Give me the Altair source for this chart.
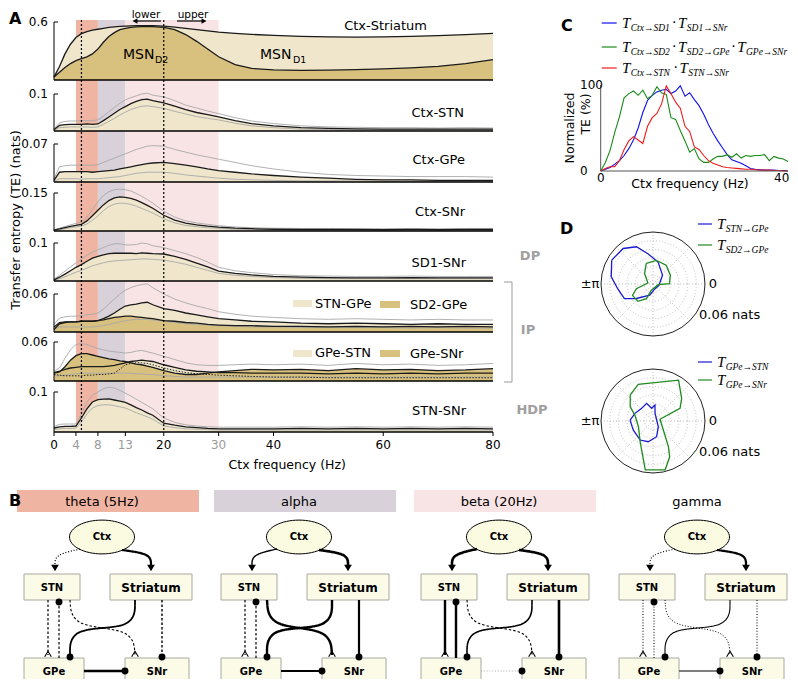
import altair as alt
import pandas as pd

W, H = 782, 671
FONT = "DejaVu Sans"
SERIF = "Liberation Serif"
LIGHT = "#efe6cb"
DARK = "#d8c17e"
THETA_C = "#f0b4a2"
ALPHA_C = "#d9d1da"
BETA_C = "#f8e4e4"

# ---------------- Panel A data (Ctx frequency grid, Hz) ----------------
FREQ = [0, 1, 2, 3, 4, 5, 6, 7, 8, 9, 10, 11, 12, 13, 14, 15, 16, 17, 18, 20, 22, 24, 26, 28, 30,
        33, 36, 40, 45, 50, 55, 60, 65, 70, 75, 80]

STR_D1 = [0.03, 0.14, 0.27, 0.37, 0.44, 0.48, 0.50, 0.515, 0.525, 0.535, 0.545, 0.55, 0.555, 0.558, 0.56,
          0.562, 0.563, 0.563, 0.562, 0.558, 0.548, 0.535, 0.522, 0.508, 0.495, 0.482, 0.472, 0.462,
          0.452, 0.446, 0.444, 0.446, 0.452, 0.46, 0.47, 0.482]
STR_D2 = [0.03, 0.08, 0.13, 0.17, 0.20, 0.22, 0.24, 0.27, 0.32, 0.39, 0.45, 0.49, 0.52, 0.535, 0.545,
          0.55, 0.552, 0.553, 0.552, 0.545, 0.52, 0.47, 0.40, 0.32, 0.24, 0.16, 0.12, 0.105, 0.10,
          0.102, 0.108, 0.115, 0.125, 0.14, 0.17, 0.21]

STN_M = [0.004, 0.015, 0.017, 0.018, 0.018, 0.018, 0.019, 0.018, 0.019, 0.028, 0.038, 0.048, 0.058, 0.066,
         0.074, 0.080, 0.085, 0.086, 0.082, 0.076, 0.067, 0.058, 0.050, 0.044, 0.038, 0.028, 0.020,
         0.014, 0.009, 0.007, 0.006, 0.005, 0.005, 0.005, 0.005, 0.005]
STN_HI = [0.006, 0.022, 0.026, 0.027, 0.027, 0.028, 0.028, 0.028, 0.030, 0.040, 0.052, 0.064, 0.075, 0.084,
          0.090, 0.095, 0.100, 0.102, 0.097, 0.092, 0.082, 0.070, 0.062, 0.054, 0.047, 0.036, 0.027,
          0.020, 0.014, 0.011, 0.010, 0.009, 0.009, 0.008, 0.009, 0.008]
STN_LO = [0.002, 0.009, 0.010, 0.011, 0.011, 0.011, 0.011, 0.010, 0.011, 0.018, 0.026, 0.034, 0.043, 0.051,
          0.058, 0.063, 0.067, 0.068, 0.066, 0.061, 0.053, 0.046, 0.039, 0.034, 0.030, 0.021, 0.014,
          0.009, 0.005, 0.004, 0.003, 0.003, 0.003, 0.003, 0.003, 0.003]

GPE_M = [0.003, 0.018, 0.019, 0.019, 0.019, 0.019, 0.019, 0.018, 0.019, 0.020, 0.021, 0.022, 0.024, 0.026,
         0.028, 0.030, 0.032, 0.034, 0.035, 0.036, 0.034, 0.031, 0.028, 0.024, 0.021, 0.018, 0.015,
         0.012, 0.009, 0.007, 0.005, 0.004, 0.004, 0.003, 0.003, 0.003]
GPE_HI = [0.006, 0.028, 0.030, 0.031, 0.031, 0.031, 0.031, 0.031, 0.032, 0.036, 0.040, 0.044, 0.048, 0.052,
          0.056, 0.060, 0.063, 0.066, 0.067, 0.066, 0.060, 0.055, 0.050, 0.046, 0.042, 0.036, 0.030,
          0.024, 0.018, 0.014, 0.012, 0.011, 0.010, 0.010, 0.010, 0.009]
GPE_LO = [0.001, 0.006, 0.006, 0.006, 0.006, 0.005, 0.006, 0.006, 0.006, 0.007, 0.008, 0.009, 0.010, 0.012,
          0.014, 0.016, 0.017, 0.018, 0.018, 0.018, 0.016, 0.013, 0.011, 0.009, 0.007, 0.005, 0.004,
          0.003, 0.002, 0.002, 0.002, 0.001, 0.001, 0.001, 0.001, 0.001]

SNR_M = [0.003, 0.008, 0.013, 0.018, 0.022, 0.026, 0.040, 0.060, 0.082, 0.103, 0.120, 0.131, 0.135, 0.133,
         0.129, 0.122, 0.112, 0.101, 0.090, 0.062, 0.043, 0.031, 0.024, 0.019, 0.015, 0.011, 0.009,
         0.007, 0.006, 0.006, 0.006, 0.005, 0.006, 0.005, 0.006, 0.006]
SNR_HI = [0.004, 0.011, 0.018, 0.024, 0.030, 0.035, 0.055, 0.085, 0.115, 0.140, 0.155, 0.163, 0.165, 0.163,
          0.158, 0.148, 0.137, 0.124, 0.110, 0.078, 0.055, 0.040, 0.032, 0.026, 0.021, 0.016, 0.013,
          0.011, 0.010, 0.010, 0.009, 0.009, 0.010, 0.009, 0.010, 0.010]
SNR_LO = [0.002, 0.005, 0.009, 0.013, 0.016, 0.019, 0.028, 0.042, 0.060, 0.080, 0.097, 0.106, 0.110, 0.109,
          0.105, 0.098, 0.089, 0.080, 0.071, 0.048, 0.032, 0.022, 0.017, 0.013, 0.010, 0.007, 0.005,
          0.004, 0.003, 0.003, 0.003, 0.003, 0.003, 0.003, 0.003, 0.003]

SD1_M = [0.003, 0.010, 0.018, 0.027, 0.036, 0.043, 0.052, 0.060, 0.065, 0.069, 0.072, 0.073, 0.073, 0.073,
         0.073, 0.072, 0.074, 0.073, 0.072, 0.071, 0.065, 0.057, 0.047, 0.037, 0.026, 0.020, 0.016,
         0.012, 0.010, 0.009, 0.008, 0.008, 0.009, 0.008, 0.008, 0.008]
SD1_HI = [0.005, 0.015, 0.026, 0.037, 0.048, 0.058, 0.068, 0.076, 0.082, 0.088, 0.094, 0.098, 0.098, 0.095,
          0.095, 0.096, 0.100, 0.098, 0.093, 0.088, 0.080, 0.072, 0.062, 0.050, 0.036, 0.027, 0.022,
          0.017, 0.014, 0.013, 0.012, 0.012, 0.013, 0.012, 0.012, 0.012]
SD1_LO = [0.002, 0.006, 0.011, 0.017, 0.023, 0.028, 0.034, 0.040, 0.044, 0.048, 0.051, 0.053, 0.054, 0.055,
          0.056, 0.057, 0.058, 0.058, 0.057, 0.055, 0.050, 0.044, 0.036, 0.028, 0.020, 0.015, 0.012,
          0.009, 0.007, 0.006, 0.006, 0.006, 0.006, 0.006, 0.006, 0.006]

STNGPE_M = [0.008, 0.015, 0.016, 0.016, 0.016, 0.017, 0.017, 0.017, 0.018, 0.021, 0.025, 0.030, 0.036,
            0.041, 0.043, 0.044, 0.046, 0.047, 0.043, 0.037, 0.034, 0.030, 0.027, 0.024, 0.021, 0.019,
            0.017, 0.016, 0.014, 0.013, 0.014, 0.013, 0.012, 0.013, 0.012, 0.012]
STNGPE_HI = [0.012, 0.022, 0.024, 0.025, 0.025, 0.026, 0.027, 0.028, 0.030, 0.036, 0.044, 0.052, 0.060,
             0.066, 0.070, 0.073, 0.075, 0.076, 0.070, 0.060, 0.052, 0.046, 0.041, 0.037, 0.032, 0.028,
             0.025, 0.023, 0.021, 0.020, 0.021, 0.020, 0.019, 0.020, 0.019, 0.019]
STNGPE_LO = [0.004, 0.008, 0.008, 0.008, 0.008, 0.008, 0.008, 0.008, 0.009, 0.010, 0.012, 0.014, 0.016,
             0.018, 0.019, 0.020, 0.020, 0.020, 0.019, 0.017, 0.015, 0.013, 0.012, 0.011, 0.010, 0.009,
             0.008, 0.008, 0.007, 0.007, 0.007, 0.007, 0.006, 0.007, 0.006, 0.006]
SD2GPE_M = [0.004, 0.013, 0.015, 0.016, 0.016, 0.017, 0.017, 0.017, 0.018, 0.019, 0.021, 0.023, 0.024,
            0.025, 0.025, 0.024, 0.023, 0.022, 0.021, 0.018, 0.017, 0.015, 0.014, 0.012, 0.011, 0.010,
            0.010, 0.009, 0.009, 0.008, 0.009, 0.008, 0.009, 0.008, 0.009, 0.008]

GPESTN_M = [0.013, 0.015, 0.018, 0.020, 0.021, 0.022, 0.022, 0.022, 0.022, 0.022, 0.023, 0.024, 0.026,
            0.028, 0.030, 0.031, 0.032, 0.031, 0.030, 0.025, 0.021, 0.017, 0.015, 0.014, 0.013, 0.013,
            0.012, 0.012, 0.012, 0.011, 0.012, 0.011, 0.012, 0.011, 0.012, 0.012]
GPESNR_M = [0.012, 0.014, 0.022, 0.032, 0.039, 0.042, 0.042, 0.040, 0.038, 0.036, 0.034, 0.033, 0.031,
            0.030, 0.028, 0.026, 0.025, 0.023, 0.021, 0.016, 0.012, 0.010, 0.010, 0.012, 0.014, 0.016,
            0.018, 0.017, 0.018, 0.016, 0.019, 0.017, 0.018, 0.016, 0.017, 0.019]
P7_HI = [0.015, 0.020, 0.035, 0.048, 0.056, 0.058, 0.056, 0.053, 0.050, 0.048, 0.046, 0.045, 0.044, 0.043,
         0.044, 0.046, 0.047, 0.045, 0.043, 0.038, 0.033, 0.028, 0.025, 0.024, 0.024, 0.025, 0.026,
         0.025, 0.026, 0.024, 0.027, 0.025, 0.026, 0.024, 0.025, 0.027]
P7_LO = [0.008, 0.008, 0.009, 0.010, 0.011, 0.012, 0.012, 0.012, 0.012, 0.012, 0.012, 0.012, 0.012, 0.012,
         0.012, 0.011, 0.011, 0.010, 0.010, 0.008, 0.007, 0.006, 0.006, 0.006, 0.006, 0.006, 0.006,
         0.006, 0.006, 0.006, 0.006, 0.006, 0.006, 0.006, 0.006, 0.006]
P7_DOT = [0.010, 0.009, 0.008, 0.008, 0.008, 0.008, 0.009, 0.009, 0.010, 0.010, 0.011, 0.012, 0.018, 0.025,
          0.027, 0.028, 0.028, 0.027, 0.025, 0.020, 0.016, 0.013, 0.011, 0.010, 0.009, 0.008, 0.007,
          0.006, 0.006, 0.005, 0.005, 0.005, 0.005, 0.005, 0.005, 0.005]

STNSNR_M = [0.010, 0.013, 0.014, 0.014, 0.015, 0.035, 0.058, 0.075, 0.081, 0.082, 0.083, 0.080, 0.077,
            0.074, 0.068, 0.061, 0.055, 0.048, 0.042, 0.022, 0.017, 0.013, 0.011, 0.009, 0.008, 0.008,
            0.008, 0.008, 0.009, 0.008, 0.009, 0.008, 0.009, 0.008, 0.009, 0.008]
STNSNR_HI = [0.014, 0.019, 0.020, 0.020, 0.020, 0.045, 0.075, 0.092, 0.100, 0.108, 0.112, 0.110, 0.104,
             0.097, 0.090, 0.082, 0.074, 0.066, 0.058, 0.035, 0.024, 0.018, 0.015, 0.013, 0.012, 0.012,
             0.012, 0.012, 0.013, 0.012, 0.013, 0.012, 0.013, 0.012, 0.013, 0.012]
STNSNR_LO = [0.006, 0.008, 0.009, 0.009, 0.010, 0.025, 0.045, 0.060, 0.066, 0.068, 0.068, 0.066, 0.063,
             0.060, 0.054, 0.048, 0.043, 0.038, 0.032, 0.015, 0.011, 0.008, 0.007, 0.006, 0.005, 0.005,
             0.005, 0.005, 0.005, 0.005, 0.005, 0.005, 0.005, 0.005, 0.005, 0.005]

BAND_START = [4, 8, 13]
BAND_END = [8, 13, 30]
BAND_COLOR = [THETA_C, ALPHA_C, BETA_C]
VLINES = [5, 20]
A_TICKS = [0, 4, 8, 13, 20, 30, 40, 60, 80]
A_TICK_COLORS = ["black", "#9a9a9a", "#9a9a9a", "#9a9a9a", "black", "#9a9a9a", "black", "black", "black"]

# ---------------- Panel C data ----------------
C_FREQ = [0, 1, 2, 3, 4, 5, 6, 7, 8, 9, 10, 11, 12, 13, 14, 15, 16, 17, 18, 19, 20,
          21, 22, 23, 24, 25, 26, 27, 28, 29, 30, 31, 32, 33, 34, 35, 36, 37, 38, 39, 40]
C_BLUE = [0, 2, 4, 8, 12, 18, 26, 36, 50, 68, 82, 88, 92, 94, 95, 90, 93, 99, 87, 91, 83,
          76, 66, 54, 44, 35, 27, 19, 13, 11, 9, 6, 3, 2, 1.5, 1, 1, 1, 0.5, 0.5, 0]
C_GREEN = [0, 10, 24, 45, 63, 85, 90, 93, 88, 94, 84, 88, 98, 91, 89, 62, 60, 47, 35, 22, 26,
           14, 10, 10, 14, 17, 17, 19, 16, 20, 15, 18, 17, 18, 18, 19, 12, 17, 15, 14, 11]
C_RED = [0, 3, 5, 5, 12, 25, 35, 40, 36, 32, 52, 62, 67, 78, 99, 90, 80, 73, 52, 46, 28,
         25, 18, 12, 9, 7, 5, 4, 3.5, 3, 2.5, 2, 2, 1.5, 1, 1, 1, 0.5, 0.5, 0, 0]

# ---------------- Panel D data (phase in degrees, TE in nats) ----------------
D1_BLUE_ANG = [150, 130, 114, 99, 77, 43, -12, -70, -106, -139, -153, -172, 170, 150]
D1_BLUE_R = [0.055, 0.0535, 0.047, 0.035, 0.026, 0.015, 0.007, 0.006, 0.0135, 0.0255, 0.037, 0.041, 0.049, 0.055]
D1_GREEN_ANG = [108, 82, 55, 27, 1, -8, -105, -114, -131, -151, -164, 169, 129, 108]
D1_GREEN_R = [0.025, 0.0275, 0.0265, 0.0225, 0.019, 0.006, 0.0075, 0.0185, 0.0265, 0.027, 0.02, 0.006, 0.0155, 0.025]
D2_BLUE_ANG = [178, 157, 132, 110, 96, 83, 75, 15, -47, -77, -103, -124, -155, 178]
D2_BLUE_R = [0.0265, 0.0226, 0.0196, 0.0217, 0.0147, 0.0186, 0.0092, 0.0044, 0.009, 0.0186, 0.0245, 0.0265, 0.025, 0.0265]
D2_GREEN_ANG = [131, 112, 58, 38, 25, 14, -41, -59, -65, -76, -99, -122, -159, 162, 148, 131]
D2_GREEN_R = [0.040, 0.0456, 0.0556, 0.042, 0.0344, 0.0083, 0.0158, 0.0345, 0.0456, 0.058, 0.057, 0.028, 0.018, 0.022, 0.031, 0.040]
RING_R = [0.01, 0.02, 0.03, 0.04, 0.05]
SPOKE_ANG = [0, 45, 90, 135, 180, 225, 270, 315]

# ---------------- Panel B data (network diagrams) ----------------
B_OFFSETS = [0, 197, 397, 595]
B_TITLES = ["theta (5Hz)", "alpha", "beta (20Hz)", "gamma"]
B_BAR = [THETA_C, ALPHA_C, BETA_C]
NODE_NAMES = ["STN", "Striatum", "GPe", "SNr"]
NODE_X1 = [24, 110, 24, 125]
NODE_X2 = [80, 192, 84, 189]
NODE_Y1 = [574, 574, 658, 658]
NODE_Y2 = [600, 600, 684, 684]
CTX_X, CTX_Y = 102, 537
EDGE_ORDER = ["ctx_stn", "ctx_str", "stn_gpe", "gpe_stn", "stn_snr", "str_gpe", "str_snr", "gpe_snr"]
EDGE_PATHS = {
    "ctx_stn": ([80, 62, 55, 55], [549, 553, 558, 565]),
    "ctx_str": ([122, 144, 151, 151], [550, 553, 558, 565]),
    "stn_gpe": ([48, 48], [600, 655]),
    "gpe_stn": ([59, 59], [658, 603]),
    "stn_snr": ([70, 72, 133, 135], [600, 628, 628, 655]),
    "str_gpe": ([135, 135, 70, 70], [600, 630, 626, 656]),
    "str_snr": ([162, 162], [600, 656]),
    "gpe_snr": ([84, 124], [671, 671]),
}
EDGE_END = {"ctx_stn": ("tri", 55, 568), "ctx_str": ("tri", 151, 568), "stn_gpe": ("open", 48, 654),
            "gpe_stn": ("dot", 59, 602), "stn_snr": ("open", 135, 654), "str_gpe": ("dot", 70, 657),
            "str_snr": ("dot", 162, 657), "gpe_snr": ("dot", 125, 671)}
EDGE_W = [[1.2, 2.2, 1.2, 1.2, 1.1, 1.8, 1.4, 2.6],
          [1.4, 2.6, 1.2, 1.2, 2.4, 2.4, 2.2, 1.8],
          [2.6, 2.6, 2.4, 2.4, 1.1, 1.6, 2.6, 1.0],
          [1.1, 2.2, 1.0, 1.0, 1.0, 1.1, 1.0, 1.6]]
EDGE_D = [["dotted", "solid", "dashed", "dashed", "dashed", "solid", "dashed", "solid"],
          ["solid", "solid", "dashed", "dashed", "solid", "solid", "solid", "solid"],
          ["solid", "solid", "solid", "solid", "dashed", "solid", "solid", "dotted"],
          ["dotted", "solid", "dotted", "dotted", "dotted", "solid", "dotted", "solid"]]
EDGE_C = [["black"] * 8, ["black"] * 8, ["black"] * 7 + ["#aaaaaa"], ["black"] * 7 + ["#555555"]]


def gx(v):
    return v - 8


PX = alt.Scale(domain=[0, 798], range=[-8, 790])
PY = alt.Scale(domain=[0, 687], range=[-8, 679])
AX = alt.Scale(domain=[0, 80], range=[gx(54), gx(493)])


def page_text(rows, **kw):
    df = pd.DataFrame(rows, columns=["px", "py", "txt"])
    style = dict(font=FONT, fontSize=12, baseline="middle", align="center", color="black")
    style.update(kw)
    return alt.Chart(df).mark_text(**style).encode(
        x=alt.X("px:Q", scale=PX, axis=None),
        y=alt.Y("py:Q", scale=PY, axis=None),
        text="txt:N")


def page_rect(rows, **kw):
    df = pd.DataFrame(rows, columns=["x1", "y1", "x2", "y2", "c"])
    return alt.Chart(df).mark_rect(**kw).encode(
        x=alt.X("x1:Q", scale=PX, axis=None), x2="x2:Q",
        y=alt.Y("y1:Q", scale=PY, axis=None), y2="y2:Q",
        fill=alt.Fill("c:N", scale=None))


def page_rule(rows, **kw):
    df = pd.DataFrame(rows, columns=["x1", "y1", "x2", "y2", "c"])
    return alt.Chart(df).mark_rule(**kw).encode(
        x=alt.X("x1:Q", scale=PX, axis=None), x2="x2:Q",
        y=alt.Y("y1:Q", scale=PY, axis=None), y2="y2:Q",
        color=alt.Color("c:N", scale=None))


def page_points(rows, **kw):
    df = pd.DataFrame(rows, columns=["px", "py"])
    return alt.Chart(df).mark_point(opacity=1, **kw).encode(
        x=alt.X("px:Q", scale=PX, axis=None),
        y=alt.Y("py:Q", scale=PY, axis=None))


# ---------------- Panel A ----------------
def make_panel(cols, ymax, label, ytop, ybase, areas, grays, means, dotted=None, bottom=False):
    df = pd.DataFrame(dict(f=FREQ, **cols))
    ys = alt.Scale(domain=[0, ymax], range=[gx(ybase), gx(ytop)])

    def X(f):
        return alt.X(f, scale=AX, axis=None)

    def Y(f):
        return alt.Y(f, scale=ys, axis=None)

    layers = []
    for col, colr in areas:
        layers.append(alt.Chart(df).mark_area(color=colr, opacity=1).encode(x=X("f:Q"), y=Y(col + ":Q")))
    for col in grays:
        layers.append(alt.Chart(df).mark_line(color="#a8a8a8", strokeWidth=0.9).encode(x=X("f:Q"), y=Y(col + ":Q")))
    if dotted:
        layers.append(alt.Chart(df).mark_line(color="#222222", strokeWidth=1, strokeDash=[1.5, 1.5]).encode(
            x=X("f:Q"), y=Y(dotted + ":Q")))
    for col in means:
        layers.append(alt.Chart(df).mark_line(color="#1b1b1b", strokeWidth=1.3).encode(x=X("f:Q"), y=Y(col + ":Q")))

    ax_df = pd.DataFrame({"x0": [0.0], "x1": [80.0], "y0": [0.0], "ym": [ymax], "xt": [0.75],
                          "xl": [-1.1], "lab": [label]})
    layers.append(alt.Chart(ax_df).mark_rule(color="black", strokeWidth=1.5).encode(
        x=X("x0:Q"), x2="x1:Q", y=Y("y0:Q")))
    layers.append(alt.Chart(ax_df).mark_rule(color="black", strokeWidth=1).encode(
        x=X("x0:Q"), y=Y("y0:Q"), y2="ym:Q"))
    layers.append(alt.Chart(ax_df).mark_rule(color="black", strokeWidth=1).encode(
        x=X("x0:Q"), x2="xt:Q", y=Y("ym:Q")))
    layers.append(alt.Chart(ax_df).mark_text(align="right", baseline="middle", font=FONT, fontSize=12,
                                            color="black").encode(
        x=X("xl:Q"), y=Y("ym:Q"), text="lab:N"))
    if bottom:
        unit = ymax / (ybase - ytop)
        tick_df = pd.DataFrame({"f": A_TICKS, "y0": 0.0, "yt": -4 * unit, "yl": -13 * unit,
                                "lab": [str(t) for t in A_TICKS], "c": A_TICK_COLORS})
        layers.append(alt.Chart(tick_df).mark_rule(color="black", strokeWidth=1).encode(
            x=X("f:Q"), y=Y("y0:Q"), y2="yt:Q"))
        layers.append(alt.Chart(tick_df).mark_text(font=FONT, fontSize=12, baseline="middle").encode(
            x=X("f:Q"), y=Y("yl:Q"), text="lab:N", color=alt.Color("c:N", scale=None)))
        title_df = pd.DataFrame({"f": [42.5], "y": [-33 * unit], "lab": ["Ctx frequency (Hz)"]})
        layers.append(alt.Chart(title_df).mark_text(font=FONT, fontSize=12.5, baseline="middle",
                                                   color="black").encode(
            x=X("f:Q"), y=Y("y:Q"), text="lab:N"))
    return alt.layer(*layers)


bands = alt.Chart(pd.DataFrame({"x1": BAND_START, "x2": BAND_END, "c": BAND_COLOR,
                                "top": [20] * 3, "bot": [432] * 3})).mark_rect().encode(
    x=alt.X("x1:Q", scale=AX, axis=None), x2="x2:Q",
    y=alt.Y("top:Q", scale=PY, axis=None), y2="bot:Q",
    fill=alt.Fill("c:N", scale=None))

p1 = make_panel({"d1": STR_D1, "d2": STR_D2}, 0.6, "0.6", 22, 80, [("d1", LIGHT), ("d2", DARK)], [], ["d1", "d2"])
p2 = make_panel({"m": STN_M, "hi": STN_HI, "lo": STN_LO}, 0.1, "0.1", 94, 131, [("m", LIGHT)], ["hi", "lo"], ["m"])
p3 = make_panel({"m": GPE_M, "hi": GPE_HI, "lo": GPE_LO}, 0.07, "0.07", 144, 182, [("m", LIGHT)], ["hi", "lo"], ["m"])
p4 = make_panel({"m": SNR_M, "hi": SNR_HI, "lo": SNR_LO}, 0.15, "0.15", 193, 231, [("m", LIGHT)], ["hi", "lo"], ["m"])
p5 = make_panel({"m": SD1_M, "hi": SD1_HI, "lo": SD1_LO}, 0.1, "0.1", 243, 281, [("m", LIGHT)], ["hi", "lo"], ["m"])
p6 = make_panel({"a": STNGPE_M, "b": SD2GPE_M, "hi": STNGPE_HI, "lo": STNGPE_LO}, 0.06, "0.06", 294, 332,
                [("a", LIGHT), ("b", DARK)], ["hi", "lo"], ["a", "b"])
p7 = make_panel({"a": GPESTN_M, "b": GPESNR_M, "hi": P7_HI, "lo": P7_LO, "d": P7_DOT}, 0.06, "0.06", 342, 381,
                [("a", LIGHT), ("b", DARK)], ["hi", "lo"], ["a", "b"], dotted="d")
p8 = make_panel({"m": STNSNR_M, "hi": STNSNR_HI, "lo": STNSNR_LO}, 0.1, "0.1", 392, 432, [("m", LIGHT)],
                ["hi", "lo"], ["m"], bottom=True)

vlines = alt.Chart(pd.DataFrame({"f": VLINES, "top": [20, 20], "bot": [432, 432]})).mark_rule(
    color="black", strokeDash=[2, 2], strokeWidth=1.2).encode(
    x=alt.X("f:Q", scale=AX, axis=None), y=alt.Y("top:Q", scale=PY, axis=None), y2="bot:Q")

a_labels = page_text([(427, 26, "Ctx-Striatum"), (464, 113, "Ctx-STN"), (465, 160, "Ctx-GPe"),
                      (465, 212, "Ctx-SNr"), (466, 263, "SD1-SNr"), (466, 411, "STN-SNr")],
                     align="right", fontSize=13)
leg_labels = page_text([(315, 304, "STN-GPe"), (410, 305, "SD2-GPe"), (315, 353, "GPe-STN"),
                        (410, 354, "GPe-SNr")], align="left", fontSize=13)
swatches = page_rect([(293, 300, 312, 307, LIGHT), (380, 301, 400, 308, DARK),
                      (293, 350, 312, 357, LIGHT), (380, 350, 400, 357, DARK)])
msn_big = page_text([(123, 55, "MSN"), (260, 55, "MSN")], align="left", fontSize=14)
msn_sub = page_text([(155, 60, "D2"), (293, 60, "D1")], align="left", fontSize=9.5)
lu_text = page_text([(146, 15, "lower"), (193, 15, "upper")], fontSize=10.5)
lu_rules = page_rule([(136, 21, 161, 21, "black"), (177, 21, 202, 21, "black")], strokeWidth=1.2)
lu_left = page_points([(135, 21)], shape="triangle-left", filled=True, color="black", size=32)
lu_right = page_points([(204, 21)], shape="triangle-right", filled=True, color="black", size=32)
pathway = page_text([(530, 256, "DP"), (528, 330, "IP"), (532, 410, "HDP")], color="#a0a0a0",
                    fontWeight="bold", fontSize=13)
bracket_df = pd.DataFrame({"o": [0, 1, 2, 3], "px": [504, 512, 512, 504], "py": [282, 282, 382, 382]})
bracket = alt.Chart(bracket_df).mark_line(color="#9a9a9a", strokeWidth=1).encode(
    x=alt.X("px:Q", scale=PX, axis=None), y=alt.Y("py:Q", scale=PY, axis=None), order="o:Q")
ytitle = page_text([(16, 220, "Transfer entropy (TE) (nats)")], angle=270, fontSize=13)
letters = page_text([(9, 19, "A"), (9, 501, "B"), (561, 26, "C"), (560, 229, "D")],
                    fontWeight="bold", fontSize=16, align="left")

# ---------------- Panel C ----------------
CX = alt.Scale(domain=[0, 40], range=[gx(600.7), gx(788)])
CY = alt.Scale(domain=[0, 100], range=[gx(171), gx(85)])
c_df = pd.concat([
    pd.DataFrame({"f": C_FREQ, "v": C_BLUE, "s": "blue"}),
    pd.DataFrame({"f": C_FREQ, "v": C_GREEN, "s": "green"}),
    pd.DataFrame({"f": C_FREQ, "v": C_RED, "s": "red"}),
])
c_lines = alt.Chart(c_df).mark_line(strokeWidth=1.1).encode(
    x=alt.X("f:Q", scale=CX, axis=None),
    y=alt.Y("v:Q", scale=CY, axis=None),
    color=alt.Color("s:N", scale=alt.Scale(domain=["blue", "green", "red"],
                                           range=["#1010ee", "#1a8a1a", "#ee1a1a"]), legend=None),
    detail="s:N")
c_ax_df = pd.DataFrame({"x0": [0.0], "x1": [40.0], "y0": [0.0], "y1": [100.0]})
c_yline = alt.Chart(c_ax_df).mark_rule(color="#555555", strokeWidth=1).encode(
    x=alt.X("x0:Q", scale=CX, axis=None), y=alt.Y("y0:Q", scale=CY, axis=None), y2="y1:Q")
c_xline = alt.Chart(c_ax_df).mark_rule(color="#555555", strokeWidth=1).encode(
    x=alt.X("x0:Q", scale=CX, axis=None), x2="x1:Q", y=alt.Y("y0:Q", scale=CY, axis=None))
c_ylab = alt.Chart(pd.DataFrame({"f": [-4.4, -4.4], "v": [100, 0], "t": ["100", "0"]})).mark_text(
    align="left", baseline="middle", font=FONT, fontSize=12, color="black").encode(
    x=alt.X("f:Q", scale=CX, axis=None), y=alt.Y("v:Q", scale=CY, axis=None), text="t:N")
c_xlab0 = alt.Chart(pd.DataFrame({"f": [0.0], "v": [-7.6], "t": ["0"]})).mark_text(
    align="center", baseline="middle", font=FONT, fontSize=12, color="black").encode(
    x=alt.X("f:Q", scale=CX, axis=None), y=alt.Y("v:Q", scale=CY, axis=None), text="t:N")
c_xlab40 = alt.Chart(pd.DataFrame({"f": [40.3], "v": [-7.6], "t": ["40"]})).mark_text(
    align="right", baseline="middle", font=FONT, fontSize=12, color="black").encode(
    x=alt.X("f:Q", scale=CX, axis=None), y=alt.Y("v:Q", scale=CY, axis=None), text="t:N")
c_xtitle = page_text([(690, 184, "Ctx frequency (Hz)")], fontSize=12.5)
c_ytitle1 = page_text([(570, 128, "Normalized")], angle=270, fontSize=12.5)
c_ytitle2 = page_text([(586, 114, "TE (%)")], angle=270, fontSize=12.5)


def sub_width(s, size):
    w = 0.0
    for ch in s:
        if ch == "→":
            w += 1.0
        elif ch.isupper():
            w += 0.66
        elif ch.isdigit():
            w += 0.5
        elif ch in "tr":
            w += 0.33
        else:
            w += 0.44
    return w * size


BIG, SMALL, DOTS = [], [], []


def math_label(x0, y, subs, big=15, small=9.5):
    x = x0
    for i, s in enumerate(subs):
        if i:
            DOTS.append((x + 1, y, "·"))
            x += 7
        BIG.append((x, y, "T"))
        x += 0.58 * big
        SMALL.append((x, y + 4.5, s))
        x += sub_width(s, small)


math_label(622, 23, ["Ctx→SD1", "SD1→SNr"])
math_label(622, 47, ["Ctx→SD2", "SD2→GPe", "GPe→SNr"])
math_label(622, 68, ["Ctx→STN", "STN→SNr"])
math_label(717, 224, ["STN→GPe"])
math_label(717, 245, ["SD2→GPe"])
math_label(717, 362, ["GPe→STN"])
math_label(717, 380, ["GPe→SNr"])

legend_lines = page_rule([
    (601.7, 23, 616.7, 23, "#1010ee"), (601.7, 47, 616.7, 47, "#1a8a1a"), (601.7, 68, 616.7, 68, "#ee1a1a"),
    (698, 224, 712, 224, "#1a1ad0"), (698, 245, 712, 245, "#1f8a1f"),
    (698, 362, 712, 362, "#1a1ad0"), (698, 380, 712, 380, "#1f8a1f")], strokeWidth=1.2)
math_big = page_text(BIG, font=SERIF, fontStyle="italic", fontSize=15, align="left")
math_small = page_text(SMALL, font=SERIF, fontStyle="italic", fontSize=9.5, align="left")
math_dots = page_text(DOTS, fontSize=14, align="left")


# ---------------- Panel D ----------------
def polar_chart(cy, curves):
    xs = alt.Scale(domain=[-0.06, 0.06], range=[gx(601), gx(705)])
    ys = alt.Scale(domain=[-0.06, 0.06], range=[gx(cy + 52), gx(cy - 52)])
    size_sc = alt.Scale(type="pow", exponent=2, domain=[0, 0.06], range=[0, 104 ** 2])
    rings = alt.Chart(pd.DataFrame({"r": RING_R, "c0": [0.0] * len(RING_R)})).mark_point(
        filled=False, color="#b0b0b0", strokeWidth=0.8, strokeDash=[1, 2], opacity=1).encode(
        x=alt.X("c0:Q", scale=xs, axis=None), y=alt.Y("c0:Q", scale=ys, axis=None),
        size=alt.Size("r:Q", scale=size_sc, legend=None))
    spokes = alt.Chart(pd.DataFrame({"a": SPOKE_ANG})).transform_calculate(
        x0="0", y0="0", x1="0.06*cos(datum.a*PI/180)", y1="0.06*sin(datum.a*PI/180)").mark_rule(
        color="#b0b0b0", strokeWidth=0.8, strokeDash=[1, 2]).encode(
        x=alt.X("x0:Q", scale=xs, axis=None), y=alt.Y("y0:Q", scale=ys, axis=None),
        x2="x1:Q", y2="y1:Q")
    outer = alt.Chart(pd.DataFrame({"r": [0.06], "c0": [0.0]})).mark_point(
        filled=False, color="#222222", strokeWidth=1, opacity=1).encode(
        x=alt.X("c0:Q", scale=xs, axis=None), y=alt.Y("c0:Q", scale=ys, axis=None),
        size=alt.Size("r:Q", scale=size_sc, legend=None))
    rows = []
    for cid, (angs, rs) in curves.items():
        for i, (a, r) in enumerate(zip(angs, rs)):
            rows.append((cid, i, a, r))
    cdf = pd.DataFrame(rows, columns=["cid", "o", "a", "r"])
    lines = alt.Chart(cdf).transform_calculate(
        qx="datum.r*cos(datum.a*PI/180)", qy="datum.r*sin(datum.a*PI/180)").mark_line(
        strokeWidth=1.3).encode(
        x=alt.X("qx:Q", scale=xs, axis=None), y=alt.Y("qy:Q", scale=ys, axis=None),
        color=alt.Color("cid:N", scale=alt.Scale(domain=["blue", "green"], range=["#1a1ad0", "#1f8a1f"]),
                        legend=None),
        order="o:Q", detail="cid:N")
    return alt.layer(spokes, rings, outer, lines)


polar1 = polar_chart(284, {"blue": (D1_BLUE_ANG, D1_BLUE_R), "green": (D1_GREEN_ANG, D1_GREEN_R)})
polar2 = polar_chart(421, {"blue": (D2_BLUE_ANG, D2_BLUE_R), "green": (D2_GREEN_ANG, D2_GREEN_R)})
d_pi = page_text([(590, 284, "±π"), (590, 421, "±π")], fontSize=13)
d_zero = page_text([(713, 284, "0"), (713, 421, "0")], fontSize=13)
d_nats = page_text([(699, 315, "0.06 nats"), (699, 452, "0.06 nats")], align="left", fontSize=13)

# ---------------- Panel B ----------------
bars = page_rect([(17 + B_OFFSETS[i], 490, 199 + B_OFFSETS[i], 512, B_BAR[i]) for i in range(3)])
bar_text = page_text([(102 + off, 502, t) for off, t in zip(B_OFFSETS, B_TITLES)], fontSize=13)
box_rows = []
label_rows_small = []
label_rows_big = []
for off in B_OFFSETS:
    for name, x1, x2, y1, y2 in zip(NODE_NAMES, NODE_X1, NODE_X2, NODE_Y1, NODE_Y2):
        box_rows.append((x1 + off, y1, x2 + off, y2, "#fbfbe8"))
        row = ((x1 + x2) / 2 + off, (y1 + y2) / 2 + 1, name)
        (label_rows_big if name == "Striatum" else label_rows_small).append(row)
    label_rows_small.append((CTX_X + off, CTX_Y, "Ctx"))
boxes = page_rect(box_rows, stroke="#a9a9a0", strokeWidth=1)
ctx_nodes = page_points([(CTX_X + off, CTX_Y) for off in B_OFFSETS],
                        shape="M-1,0A1,0.52,0,1,1,1,0A1,0.52,0,1,1,-1,0Z", size=65 ** 2, filled=True,
                        fill="#fbfbe2", stroke="black", strokeWidth=1)
node_small = page_text(label_rows_small, fontWeight="bold", fontSize=10)
node_big = page_text(label_rows_big, fontWeight="bold", fontSize=12)

edge_rows, tri_rows, dot_rows, open_rows = [], [], [], []
for d, off in enumerate(B_OFFSETS):
    for k, name in enumerate(EDGE_ORDER):
        xs, ys = EDGE_PATHS[name]
        for j, (ex, ey) in enumerate(zip(xs, ys)):
            edge_rows.append((f"{d}_{name}", j, ex + off, ey, EDGE_W[d][k], EDGE_D[d][k], EDGE_C[d][k]))
        kind, mx, my = EDGE_END[name]
        {"tri": tri_rows, "dot": dot_rows, "open": open_rows}[kind].append((mx + off, my))
edge_df = pd.DataFrame(edge_rows, columns=["eid", "o", "px", "py", "w", "dash", "col"])
edges = alt.Chart(edge_df).mark_line(interpolate="basis").encode(
    x=alt.X("px:Q", scale=PX, axis=None), y=alt.Y("py:Q", scale=PY, axis=None),
    detail="eid:N", order="o:Q",
    strokeWidth=alt.StrokeWidth("w:Q", scale=None, legend=None),
    strokeDash=alt.StrokeDash("dash:N", scale=alt.Scale(domain=["solid", "dashed", "dotted"],
                                                         range=[[1, 0], [2.5, 2], [1, 1.8]]), legend=None),
    color=alt.Color("col:N", scale=None))
tris = page_points(tri_rows, shape="triangle-down", filled=True, color="black", size=60)
dots = page_points(dot_rows, shape="circle", filled=True, color="black", size=48)
opens = page_points(open_rows, shape="M-1,0.8L0,-0.8L1,0.8", filled=False, color="black", strokeWidth=1.1,
                    size=45)

layers = [bands, p1, p2, p3, p4, p5, p6, p7, p8, vlines,
          a_labels, leg_labels, swatches, msn_big, msn_sub, lu_text, lu_rules, lu_left, lu_right,
          pathway, bracket, ytitle,
          c_lines, c_yline, c_xline, c_ylab, c_xlab0, c_xlab40, c_xtitle, c_ytitle1, c_ytitle2,
          legend_lines, math_big, math_small, math_dots,
          polar1, polar2, d_pi, d_zero, d_nats,
          bars, bar_text, boxes, ctx_nodes, edges, tris, dots, opens, node_small, node_big,
          letters]

chart = alt.layer(*layers).resolve_scale(
    x="independent", y="independent", color="independent", fill="independent", size="independent",
    strokeDash="independent", strokeWidth="independent"
).properties(
    width=W, height=H, autosize=alt.AutoSizeParams(type="none"), padding=0
).configure_view(stroke=None)

chart.save("out.html", embed_options={"renderer": "svg", "actions": False})
